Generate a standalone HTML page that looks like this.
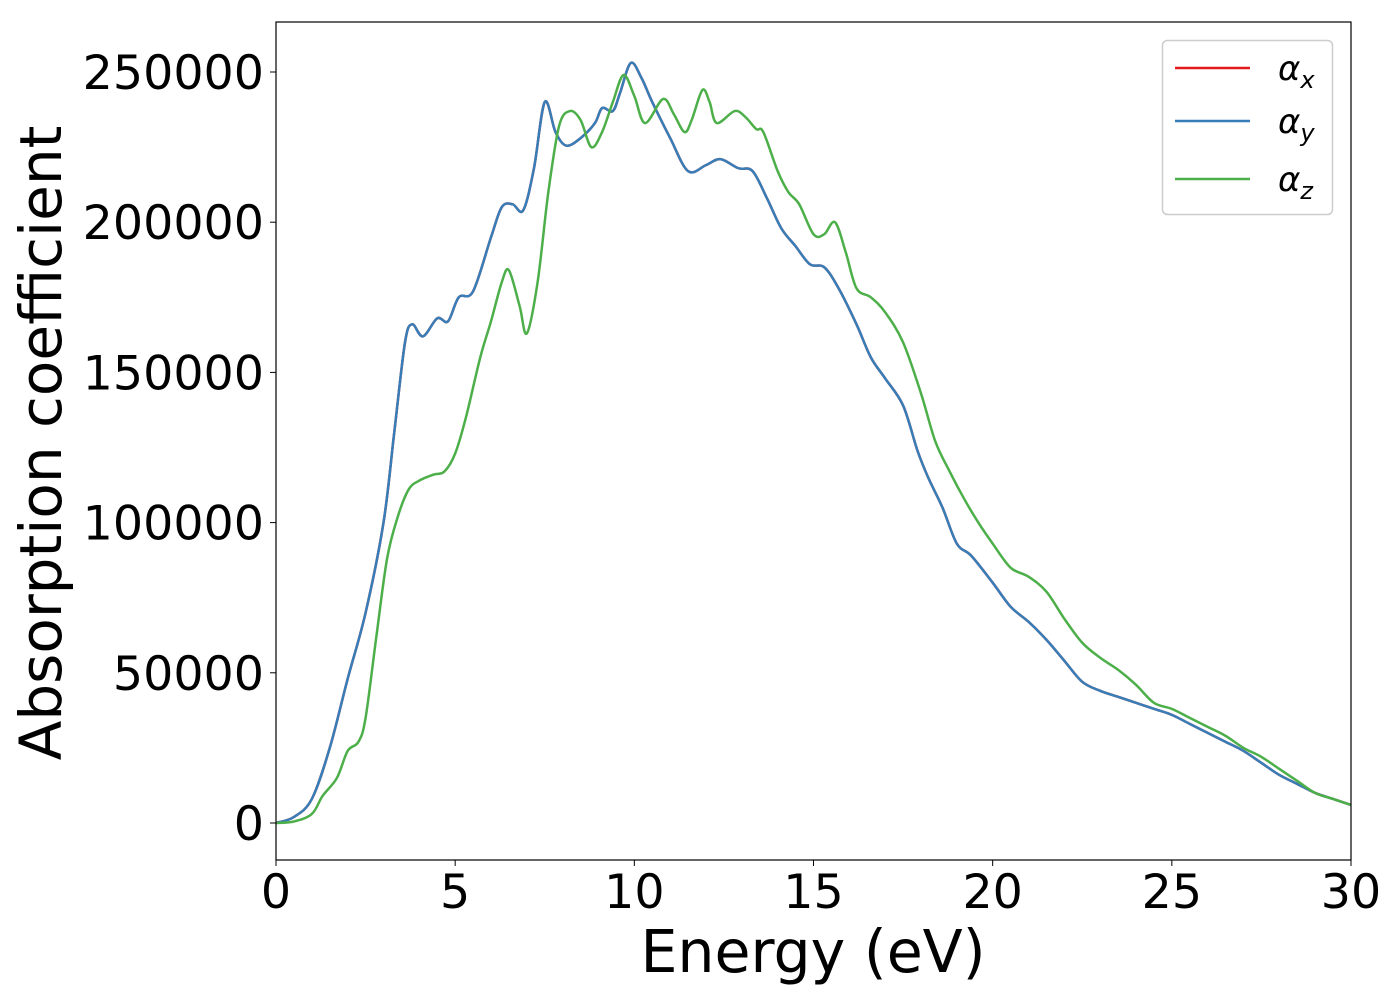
<!DOCTYPE html>
<html><head><meta charset="utf-8"><style>
html,body{margin:0;padding:0;background:#fff;}
svg text{font-family:"DejaVu Sans","Liberation Sans",sans-serif;}
</style></head><body>
<svg id="chart" width="1400" height="1000" xmlns="http://www.w3.org/2000/svg">
<rect x="0" y="0" width="1400" height="1000" fill="#fff"/>
<g id="plot"></g>
<g id="axes"></g>
<text x="813" y="972" font-size="58.5" text-anchor="middle">Energy (eV)</text>
<text transform="translate(61,443) rotate(-90)" font-size="58" text-anchor="middle">Absorption coefficient</text>
<g>
<rect x="1162.5" y="40.5" width="170" height="174" rx="5" fill="#fff" fill-opacity="0.8" stroke="#ccc" stroke-width="1.5"/>
<line x1="1175" y1="68" x2="1250" y2="68" stroke="#e41a1c" stroke-width="2.5"/>
<text x="1278" y="80" font-size="34" font-style="italic">α<tspan font-size="24" dy="8">x</tspan></text>
<line x1="1175" y1="121" x2="1250" y2="121" stroke="#377eb8" stroke-width="2.5"/>
<text x="1278" y="133" font-size="34" font-style="italic">α<tspan font-size="24" dy="8">y</tspan></text>
<line x1="1175" y1="179" x2="1250" y2="179" stroke="#4daf4a" stroke-width="2.5"/>
<text x="1278" y="191" font-size="34" font-style="italic">α<tspan font-size="24" dy="8">z</tspan></text>
</g>
</svg>
<script>
const energyXY = [0,0.5,1.0,1.5,2.0,2.5,3.0,3.3,3.6,3.8,4.1,4.5,4.8,5.1,5.5,6.0,6.3,6.6,6.9,7.2,7.5,7.8,8.1,8.5,8.9,9.1,9.4,9.6,9.9,10.2,10.5,11.0,11.5,12.0,12.4,12.9,13.3,13.7,14.1,14.5,14.9,15.3,15.7,16.2,16.6,17.0,17.5,17.9,18.2,18.6,19.0,19.4,20.0,20.5,21.0,21.5,22.0,22.5,23.0,23.5,24.0,24.5,25.0,25.5,26.0,26.5,27.0,27.5,28.0,28.5,29.0,29.5,30.0];
const alphaXY = [0,2000,8000,25000,48000,70000,100000,130000,160000,166000,162000,168000,167000,175000,177000,195000,205000,206000,204000,218000,240000,230000,225500,228000,233000,238000,237000,243000,253000,248000,240000,228000,217000,219000,221000,218000,217000,208000,198000,192000,186000,185000,178000,166000,155000,148000,139000,124000,115000,105000,93000,89000,80000,72000,67000,61000,54000,47000,44000,42000,40000,38000,36000,33000,30000,27000,24000,20000,16000,13000,10000,8000,6000];
const energyZ = [0,0.5,1.0,1.3,1.7,2.0,2.3,2.5,2.8,3.1,3.4,3.7,4.0,4.4,4.7,5.0,5.3,5.7,6.0,6.3,6.5,6.8,7.0,7.3,7.6,7.9,8.2,8.5,8.8,9.1,9.4,9.7,10.0,10.3,10.8,11.1,11.4,11.6,11.9,12.1,12.3,12.8,13.1,13.4,13.6,14.0,14.3,14.6,15.0,15.3,15.6,15.9,16.2,16.6,17.0,17.5,18.0,18.4,18.8,19.2,19.6,20.0,20.5,21.0,21.5,22.0,22.5,23.0,23.5,24.0,24.5,25.0,25.5,26.0,26.5,27.0,27.5,28.0,28.5,29.0,29.5,30.0];
const alphaZ = [0,500,3000,9000,15000,24000,27000,35000,62000,88000,102000,111000,114000,116000,117000,123000,135000,155000,167000,180000,184000,172000,163000,180000,210000,232000,237000,234000,225000,230000,240000,249000,242000,233000,241000,236000,230000,234000,244000,240000,233000,237000,235000,231000,230000,217000,210000,206000,196000,196000,200000,190000,178000,175000,170000,160000,143000,127000,117000,108000,100000,93000,85000,82000,77000,68000,60000,55000,51000,46000,40000,38000,35000,32000,29000,25000,22000,18000,14000,10000,8000,6000];
const xTicks = [0,5,10,15,20,25,30];
const yTicks = [0,50000,100000,150000,200000,250000];

const L=276,R=1351,T=22,B=860;
const xS = v => L + (v-0)/30*(R-L);
const yS = v => 823 - v*0.003004;
const NS='http://www.w3.org/2000/svg';
function path(xs,ys){
  const p=xs.map((x,i)=>[xS(x),yS(ys[i])]);
  let d='M'+p[0][0].toFixed(2)+','+p[0][1].toFixed(2);
  for(let i=0;i<p.length-1;i++){
    const p0=p[Math.max(0,i-1)],p1=p[i],p2=p[i+1],p3=p[Math.min(p.length-1,i+2)];
    const c1x=p1[0]+(p2[0]-p0[0])/6,c1y=p1[1]+(p2[1]-p0[1])/6;
    const c2x=p2[0]-(p3[0]-p1[0])/6,c2y=p2[1]-(p3[1]-p1[1])/6;
    d+=` C${c1x.toFixed(2)},${c1y.toFixed(2)} ${c2x.toFixed(2)},${c2y.toFixed(2)} ${p2[0].toFixed(2)},${p2[1].toFixed(2)}`;
  }
  return d;
}
const plot=document.getElementById('plot');
const clip=document.createElementNS(NS,'clipPath');clip.setAttribute('id','cp');
const cr=document.createElementNS(NS,'rect');cr.setAttribute('x',L);cr.setAttribute('y',T);cr.setAttribute('width',R-L);cr.setAttribute('height',B-T);
clip.appendChild(cr);plot.appendChild(clip);
function addLine(xs,ys,color,name){
  const el=document.createElementNS(NS,'path');
  el.setAttribute('d',path(xs,ys));el.setAttribute('fill','none');el.setAttribute('stroke',color);
  el.setAttribute('stroke-width','2.5');el.setAttribute('clip-path','url(#cp)');
  
  
  plot.appendChild(el);
}
addLine(energyXY,alphaXY,'#e41a1c','series-alpha-x');
addLine(energyXY,alphaXY,'#377eb8','series-alpha-y');
addLine(energyZ,alphaZ,'#4daf4a','series-alpha-z');

const axes=document.getElementById('axes');
const frame=document.createElementNS(NS,'rect');
frame.setAttribute('x',L);frame.setAttribute('y',T);frame.setAttribute('width',R-L);frame.setAttribute('height',B-T);
frame.setAttribute('fill','none');frame.setAttribute('stroke','#000');frame.setAttribute('stroke-width','1.2');


axes.appendChild(frame);
xTicks.forEach(t=>{
  const x=xS(t);
  const l=document.createElementNS(NS,'line');
  l.setAttribute('x1',x);l.setAttribute('x2',x);l.setAttribute('y1',B);l.setAttribute('y2',B+6);l.setAttribute('stroke','#000');
  
  
  axes.appendChild(l);
  const tx=document.createElementNS(NS,'text');
  tx.setAttribute('x',x);tx.setAttribute('y',908);tx.setAttribute('font-size','47.5');tx.setAttribute('text-anchor','middle');
  tx.textContent=t;
  
  
  axes.appendChild(tx);
});
yTicks.forEach(t=>{
  const y=yS(t);
  const l=document.createElementNS(NS,'line');
  l.setAttribute('x1',L-6);l.setAttribute('x2',L);l.setAttribute('y1',y);l.setAttribute('y2',y);l.setAttribute('stroke','#000');
  
  
  axes.appendChild(l);
  const tx=document.createElementNS(NS,'text');
  tx.setAttribute('x',L-12);tx.setAttribute('y',y+17);tx.setAttribute('font-size','47.5');tx.setAttribute('text-anchor','end');
  tx.textContent=t;
  
  
  axes.appendChild(tx);
});
</script>
</body></html>
